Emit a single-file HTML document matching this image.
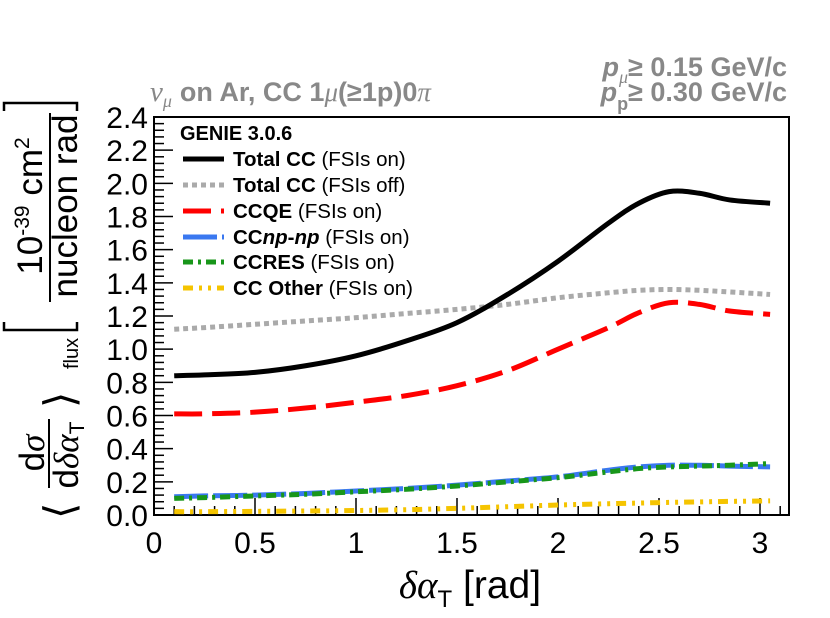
<!DOCTYPE html>
<html><head><meta charset="utf-8"><style>
html,body{margin:0;padding:0;background:#fff;}
svg{display:block;font-family:"Liberation Sans",sans-serif;}
</style></head><body>
<svg id="chart" width="830" height="618" viewBox="0 0 830 618">
<rect width="830" height="618" fill="#fff"/>
<g fill="#888" font-weight="bold" font-size="27">
<text x="150" y="101"><tspan font-family="Liberation Serif,serif" font-style="italic" font-weight="normal" font-size="29">ν</tspan><tspan font-family="Liberation Serif,serif" font-style="italic" font-weight="normal" font-size="18" dy="6">μ</tspan><tspan dy="-6" dx="8">on Ar, CC 1</tspan><tspan font-family="Liberation Serif,serif" font-style="italic" font-weight="normal">μ</tspan><tspan>(≥1p)0</tspan><tspan font-family="Liberation Serif,serif" font-style="italic" font-weight="normal">π</tspan></text>
</g>
<g fill="#888" font-weight="bold" font-size="27">
<text x="787" y="76" text-anchor="end"><tspan font-style="italic">p</tspan><tspan font-size="18" dy="7" font-style="italic" font-family="Liberation Serif,serif" font-weight="normal">μ</tspan><tspan dy="-7">≥ 0.15 GeV/c</tspan></text>
<text x="787" y="101" text-anchor="end"><tspan font-style="italic">p</tspan><tspan font-size="18" dy="9">p</tspan><tspan dy="-9">≥ 0.30 GeV/c</tspan></text>
</g>
<g id="axes"></g>
<g id="series"></g>
<g id="legend"></g>
<g><text x="470" y="598" text-anchor="middle" font-size="39"><tspan font-family="Liberation Serif,serif" font-style="italic">δα</tspan><tspan font-size="24" dy="9">T</tspan><tspan dy="-9"> [rad]</tspan></text></g>
<g transform="rotate(-90)" font-size="35">
<text x="-519" y="74" font-family="Liberation Serif,serif" font-size="42">⟨</text>
<text x="-453" y="44" text-anchor="middle">d<tspan font-family="Liberation Serif,serif" font-style="italic">σ</tspan></text>
<line x1="-488" y1="49" x2="-419" y2="49" stroke="#000" stroke-width="2"/>
<text x="-455" y="78" text-anchor="middle">d<tspan font-family="Liberation Serif,serif" font-style="italic">δα</tspan><tspan font-size="21" dy="6">T</tspan></text>
<text x="-408" y="74" font-family="Liberation Serif,serif" font-size="42">⟩</text>
<text x="-369" y="78" font-size="20">flux</text>
<polyline points="-322,4 -330,4 -330,77 -322,77" fill="none" stroke="#000" stroke-width="2.5"/>
<text x="-206" y="42" text-anchor="middle">10<tspan font-size="21" dy="-13">-39</tspan><tspan dy="13"> cm</tspan><tspan font-size="21" dy="-13">2</tspan></text>
<line x1="-302" y1="50" x2="-113" y2="50" stroke="#000" stroke-width="2"/>
<text x="-206" y="77" text-anchor="middle">nucleon rad</text>
<polyline points="-111,4 -103,4 -103,77 -111,77" fill="none" stroke="#000" stroke-width="2.5"/>
</g>
</svg>
<script>
const xVals=[0.1,0.25,0.5,0.75,1.0,1.25,1.5,1.75,2.0,2.25,2.4,2.55,2.7,2.85,3.05];
const totalOn=[0.84,0.845,0.86,0.90,0.96,1.05,1.16,1.33,1.53,1.76,1.88,1.95,1.94,1.90,1.88];
const totalOff=[1.12,1.13,1.15,1.17,1.19,1.215,1.24,1.27,1.31,1.34,1.355,1.36,1.355,1.345,1.33];
const ccqe=[0.61,0.61,0.62,0.645,0.68,0.72,0.78,0.87,1.0,1.13,1.22,1.28,1.27,1.23,1.21];
const npnp=[0.11,0.115,0.12,0.13,0.145,0.16,0.18,0.205,0.23,0.27,0.29,0.30,0.30,0.295,0.29];
const ccres=[0.10,0.105,0.115,0.125,0.14,0.155,0.175,0.20,0.225,0.26,0.28,0.29,0.295,0.30,0.31];
const ccother=[0.02,0.02,0.022,0.024,0.027,0.032,0.04,0.05,0.06,0.068,0.072,0.076,0.079,0.082,0.085];
const xTicks=["0","0.5","1","1.5","2","2.5","3"];
const yTicks=["0.0","0.2","0.4","0.6","0.8","1.0","1.2","1.4","1.6","1.8","2.0","2.2","2.4"];
const seriesNames=["total-cc-fsi-on","total-cc-fsi-off","ccqe","ccnp-np","ccres","cc-other"];
const X0=154,X1=789,Y0=515,Y1=117,YMAX=2.4;
function sx(v){return X0+v*202;}
function sy(v){return Y0-v*(Y0-Y1)/YMAX;}
const NS="http://www.w3.org/2000/svg";
function mk(t,a,p){const e=document.createElementNS(NS,t);for(const k in a)e.setAttribute(k,a[k]);p.appendChild(e);return e;}
const ax=document.getElementById('axes');
const frame=mk('rect',{x:X0,y:Y1,width:X1-X0,height:Y0-Y1,fill:'none',stroke:'#000','stroke-width':2},ax);


for(let i=0;i<=31;i++){const v=i*0.1;if(sx(v)>X1)break;const maj=i%5===0;
 const t=mk('line',{x1:sx(v),x2:sx(v),y1:Y0,y2:Y0-(maj?17:9),stroke:'#000','stroke-width':1.5},ax);
 
 }
xTicks.forEach(s=>{const t=mk('text',{x:sx(parseFloat(s)),y:553,'text-anchor':'middle','font-size':30},ax);t.textContent=s;
 
 });
for(let i=0;i<=60;i++){const v=i*0.04;const maj=i%5===0;
 const t=mk('line',{x1:X0,x2:X0+(maj?19:10),y1:sy(v),y2:sy(v),stroke:'#000','stroke-width':1.5},ax);
 
 }
yTicks.forEach(s=>{const t=mk('text',{x:148,y:sy(parseFloat(s))+11,'text-anchor':'end','font-size':30},ax);t.textContent=s;
 
 });
const styles=[
 {c:'#000',w:5,d:''},
 {c:'#aaa',w:5,d:'5,4'},
 {c:'#f00',w:5,d:'28,10'},
 {c:'#3a78f0',w:5,d:'34,5'},
 {c:'#18961a',w:5,d:'10,5,3,5'},
 {c:'#f5c400',w:5,d:'10,6,3,6,3,6'}];
const data=[totalOn,totalOff,ccqe,npnp,ccres,ccother];
function pathFor(ys){const p=xVals.map((x,i)=>[sx(x),sy(ys[i])]);let d='M'+p[0][0]+','+p[0][1];
 for(let i=0;i<p.length-1;i++){const a=p[Math.max(0,i-1)],b=p[i],c=p[i+1],e=p[Math.min(p.length-1,i+2)];
  const c1=[b[0]+(c[0]-a[0])/6,b[1]+(c[1]-a[1])/6],c2=[c[0]-(e[0]-b[0])/6,c[1]-(e[1]-b[1])/6];
  d+=' C'+c1[0]+','+c1[1]+' '+c2[0]+','+c2[1]+' '+c[0]+','+c[1];}return d;}
const sg=document.getElementById('series');
[3,4,5,2,1,0].forEach(i=>{const s=styles[i];const e=mk('path',{d:pathFor(data[i]),fill:'none',stroke:s.c,'stroke-width':s.w,'stroke-dasharray':s.d},sg);
 
 });
const lg=document.getElementById('legend');
const gt=mk('text',{x:180,y:140,'font-size':20,'font-weight':'bold'},lg);gt.textContent='GENIE 3.0.6';


const labs=[['Total CC',' (FSIs on)'],['Total CC',' (FSIs off)'],['CCQE',' (FSIs on)'],['CC','np-np',' (FSIs on)'],['CCRES',' (FSIs on)'],['CC Other',' (FSIs on)']];
const ly=[159,185,211,237,262,288];
labs.forEach((l,i)=>{const g=mk('g',{},lg);
 
 
 const s=styles[i];mk('line',{x1:183,x2:224,y1:ly[i],y2:ly[i],stroke:s.c,'stroke-width':s.w,'stroke-dasharray':s.d},g);
 const t=mk('text',{x:233,y:ly[i]+7,'font-size':20.5},g);
 const parts=l.length===3?[['CC','bold','normal'],['np','bold','italic'],['-','bold','normal'],['np','bold','italic'],[l[2],'normal','normal']]:[[l[0],'bold','normal'],[l[1],'normal','normal']];
 parts.forEach(p=>{const ts=mk('tspan',{'font-weight':p[1],'font-style':p[2]},t);ts.textContent=p[0];});});
</script>
</body></html>
